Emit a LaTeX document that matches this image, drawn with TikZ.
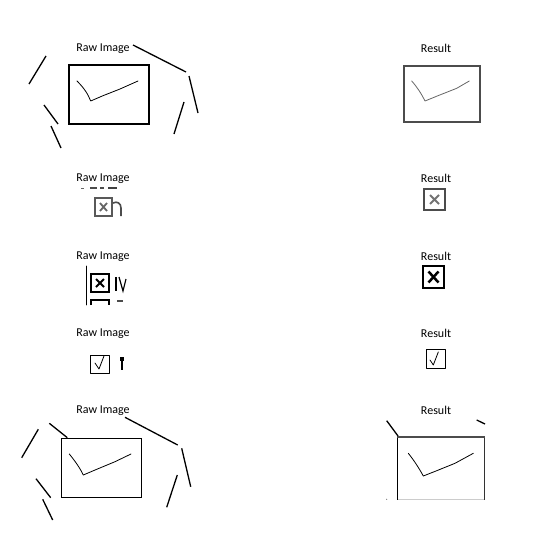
\documentclass[tikz,border=0pt]{standalone}
\usepackage{fontspec}
\setmainfont{Carlito}
\begin{document}
\begin{tikzpicture}
    [x=1pt, y=-1pt,
    caption/.style={inner sep=0pt, font=\fontsize{12}{14}\selectfont},
    frame/.style={line width=1.2pt},
    pen/.style={line width=0.8pt, line join=round, line cap=round},
    stroke/.style={line width=1.3pt},
    greyframe/.style={line width=2pt, draw=black!70}]
    \useasboundingbox (0,0) rectangle (553,543);

        %% captions
    \node[caption] (raw1) at (103,48.5) {Raw Image};
    \node[caption] (res1) at (436,48.5) {Result};
    \node[caption] (raw2) at (103,178.5) {Raw Image};
    \node[caption] (res2) at (436,178.5) {Result};
    \node[caption] (raw3) at (103,256.5) {Raw Image};
    \node[caption] (res3) at (436,256.5) {Result};
    \node[caption] (raw4) at (103,333.5) {Raw Image};
    \node[caption] (res4) at (436,333.5) {Result};
    \node[caption] (raw5) at (103,410.5) {Raw Image};
    \node[caption] (res5) at (436,410.5) {Result};

        %% row 1, raw
    \draw[frame] (69,65) rectangle (149,124);
    \draw[pen] (77,81) .. controls (84,88) and (88,94) .. (90.7,101) -- (103,95.7) -- (120,89) -- (138,81);
    \draw[stroke] (46,56) -- (29,84);
    \draw[stroke] (44,105) -- (58,124);
    \draw[stroke] (51,126) -- (61,148);
    \draw[stroke] (133,45) -- (186,72);
    \draw[stroke] (189,76) -- (198,113);
    \draw[stroke] (184,102) -- (174,134);

        %% row 1, result
    \draw[greyframe] (403.5,66) rectangle (480,122);
    \draw[pen, black!60] (411.7,81) .. controls (417,87) and (421,93) .. (425,101) -- (438,95.7) -- (456.7,88.3) -- (469.3,81);

        %% row 2, raw
    \draw[line width=0.9pt, black!60] (81,188) -- (84,188);
    \draw[line width=1.6pt, black!70] (90,188) -- (97,188);
    \draw[line width=1.6pt, black!70] (100,188) -- (104,188);
    \draw[line width=1.8pt, black!75] (108,188) -- (117,188);
    \draw[line width=1.5pt, black!65] (95,198) rectangle (112,216);
    \draw[line width=1.8pt, black!60] (100,203) -- (107,211) (107,203) -- (100,211);
    \draw[line width=1.6pt, black!70] (113,203) .. controls (117,201) and (121,203) .. (121,208) -- (121,216);

        %% row 2, result
    \draw[greyframe] (424,189) rectangle (445,210);
    \draw[line width=2pt, black!55] (430,195) -- (439,204) (439,195) -- (430,204);

        %% row 3, raw
    \draw[pen] (86,266) -- (86,305);
    \draw[line width=2.2pt] (91,274) rectangle (109,292);
    \draw[line width=2pt] (96,279) -- (104,287) (104,279) -- (96,287);
    \draw[line width=1.2pt] (116,277) -- (116,291);
    \draw[line width=1.2pt] (119,277) -- (123,291) -- (126,279);
    \draw[line width=2pt] (91,305) -- (91,300) -- (109,300) -- (109,305);
    \draw[line width=1.2pt, black!70] (117,301) -- (123,301);

        %% row 3, result
    \draw[line width=2.5pt] (423,266) rectangle (444,288);
    \draw[line width=2.5pt] (428.5,271.5) -- (438.5,282.5) (438.5,271.5) -- (428.5,282.5);

        %% row 4, raw
    \draw[pen] (90,355) rectangle (109,373);
    \draw[pen] (95,363) -- (99,369) -- (104,356);
    \fill (120,357) rectangle (124,361);
    \draw[line width=2.2pt] (121.8,358) -- (121.8,370);

        %% row 4, result
    \draw[pen] (426,349.5) rectangle (445,368.5);
    \draw[pen] (430,360) -- (433.3,365) -- (438.3,352);

        %% row 5, raw
    \draw[frame] (61.7,438.3) rectangle (141.7,497.3);
    \draw[pen] (69.3,454) .. controls (75,461) and (80,468) .. (83.3,475) -- (96.7,469.3) -- (115,461.7) -- (131,454);
    \draw[stroke] (38.3,429.3) -- (21.7,457.7);
    \draw[stroke] (49.3,423.3) -- (67.3,437.7);
    \draw[stroke] (36,478.7) -- (50.7,497.7);
    \draw[stroke] (42.7,499.3) -- (52.7,520);
    \draw[stroke] (125,417.3) -- (177.7,445);
    \draw[stroke] (181.7,448.3) -- (190.7,486.7);
    \draw[stroke] (177.3,475) -- (166.7,507.3);

        %% row 5, result
    \draw[line width=0.8pt, black!20] (397.7,499) -- (484.3,499);
    \draw[line width=1.5pt] (397.7,436.7) -- (397.7,500);
    \draw[line width=1.3pt, black!80] (484.3,436.7) -- (484.3,500);
    \draw[line width=2pt, black!70] (397,436.7) -- (485,436.7);
    \draw[stroke] (386.7,420.7) -- (398,436);
    \draw[stroke] (476.7,420) -- (485,424);
    \fill[black!60] (386.7,499.3) circle (0.6);
    \draw[pen] (408.3,453.3) .. controls (413,459) and (419,468) .. (423.3,476) -- (436.7,470.7) -- (455,463.3) -- (473.3,453.3);
\end{tikzpicture}
\end{document}
